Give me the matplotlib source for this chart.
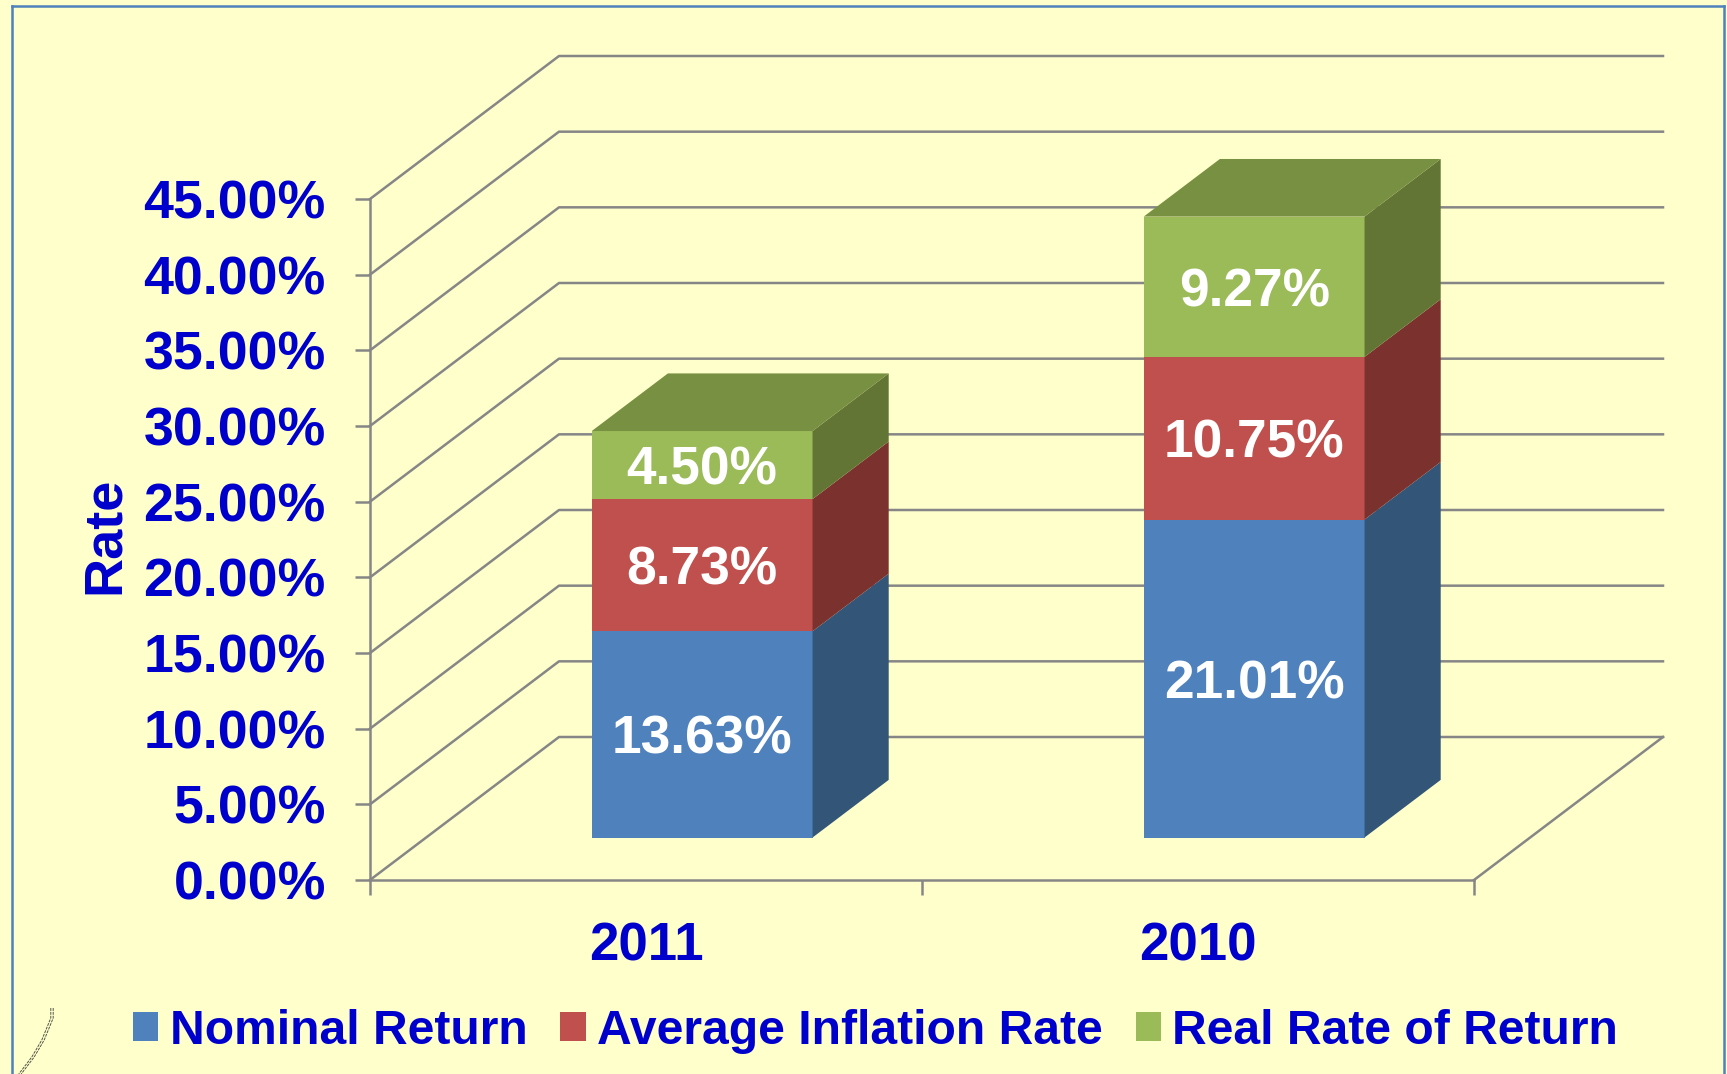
import matplotlib
matplotlib.use('Agg')
import matplotlib.pyplot as plt
from matplotlib.patches import Patch

plt.rcParams['font.family'] = ['Liberation Sans', 'DejaVu Sans']
plt.rcParams['font.weight'] = 'bold'

# data
years = ['2011', '2010']
nominal_return = [13.63, 21.01]
inflation_rate = [8.73, 10.75]
real_return = [4.50, 9.27]
series_names = ['Nominal Return', 'Average Inflation Rate', 'Real Rate of Return']
y_ticks = [0, 5, 10, 15, 20, 25, 30, 35, 40, 45]

front_colors = ['#4F81BD', '#C0504D', '#9BBB59']
side_colors = ['#335578', '#7B322F', '#637534']
top_color = '#789041'
grid_color = '#868686'
text_color = '#0000CC'
bg_color = '#FFFFCC'

W, H = 1727, 1074
fig = plt.figure(figsize=(W / 100, H / 100), dpi=100, facecolor=bg_color)

# axes is the front plane of the 3d box
left, right, top, bottom = 370, 1474, 199, 880
ax = fig.add_axes([left / W, 1 - bottom / H, (right - left) / W, (bottom - top) / H])
ax.set_xlim(0, 2)
ax.set_ylim(0, 45)
ax.patch.set_visible(False)

# how far one full unit of depth moves things, in data units
depth_x = 189 / ((right - left) / 2)
depth_y = 143 / ((bottom - top) / 45)


def project(x, y, z):
    return x + z * depth_x, y + z * depth_y


def face(points, color):
    xs, ys = zip(*[project(*p) for p in points])
    ax.fill(xs, ys, color=color, lw=0, clip_on=False, zorder=3)


# walls and floor
for t in y_ticks:
    x0, y0 = project(0, t, 0)
    x1, y1 = project(0, t, 1)
    x2, y2 = project(2, t, 1)
    ax.plot([x0, x1, x2], [y0, y1, y2], color=grid_color, lw=1.8, clip_on=False, zorder=1)
x0, y0 = project(2, 0, 0)
x1, y1 = project(2, 0, 1)
ax.plot([x0, x1], [y0, y1], color=grid_color, lw=1.8, clip_on=False, zorder=1)

# bars
bar_w = 0.4
z0, z1 = 0.297, 0.70
for i in range(len(years)):
    xl = i + 0.5 - bar_w / 2
    xr = xl + bar_w
    base = 0
    for k, vals in enumerate([nominal_return, inflation_rate, real_return]):
        v = vals[i]
        t = base + v
        face([(xl, base, z0), (xr, base, z0), (xr, t, z0), (xl, t, z0)], front_colors[k])
        face([(xr, base, z0), (xr, base, z1), (xr, t, z1), (xr, t, z0)], side_colors[k])
        lx, ly = project(i + 0.5, base + v / 2, z0)
        ax.text(lx, ly, f'{v:.2f}%', color='white', fontsize=38.3, ha='center',
                va='center_baseline', zorder=4)
        base = t
    face([(xl, base, z0), (xr, base, z0), (xr, base, z1), (xl, base, z1)], top_color)

# axis lines and ticks
for s in ['top', 'right']:
    ax.spines[s].set_visible(False)
for s in ['left', 'bottom']:
    ax.spines[s].set_color(grid_color)
    ax.spines[s].set_linewidth(1.8)
ax.set_yticks(y_ticks)
ax.set_yticklabels([f'{t:.2f}%' for t in y_ticks])
ax.tick_params(axis='y', length=10.8, width=1.8, color=grid_color, pad=21,
               labelsize=38.7, labelcolor=text_color)
ax.set_xticks([0, 1, 2])
ax.set_xticklabels([])
ax.tick_params(axis='x', length=10.8, width=1.8, color=grid_color)
ax.set_xticks([0.5, 1.5], minor=True)
ax.set_xticklabels(years, minor=True)
ax.tick_params(axis='x', which='minor', length=0, pad=30, labelsize=38, labelcolor=text_color)

fig.text(105 / W, 1 - 535 / H, 'Rate', rotation=90, color=text_color, fontsize=39,
         ha='center', va='center')

handles = [Patch(color=c, lw=0) for c in front_colors]
fig.legend(handles, series_names, loc='center left', bbox_to_anchor=(133 / W, 1 - 1031 / H),
           ncol=3, frameon=False, fontsize=34.6, labelcolor=text_color, borderpad=0, borderaxespad=0,
           handlelength=0.53, handleheight=0.53, handletextpad=0.23, columnspacing=0.69)

# frame, open at the bottom
for xs, ys in [([12, 12], [1074, 6]), ([12, 1724], [6, 6]), ([1724, 1724], [6, 1074])]:
    fig.add_artist(plt.Line2D([x / W for x in xs], [1 - y / H for y in ys], color='#4F81BD', lw=1.8))

# little pen stroke in the corner, two thin broken edges
sx = [52, 52, 43, 33, 20]
sy = [1008, 1018, 1040, 1057, 1074]
for off in [-1.2, 1.2]:
    fig.add_artist(plt.Line2D([(x + off) / W for x in sx], [1 - y / H for y in sy],
                              color='#55554A', lw=0.7, ls=(0, (3, 1))))

fig.savefig('out.png', dpi=100, facecolor=bg_color)
